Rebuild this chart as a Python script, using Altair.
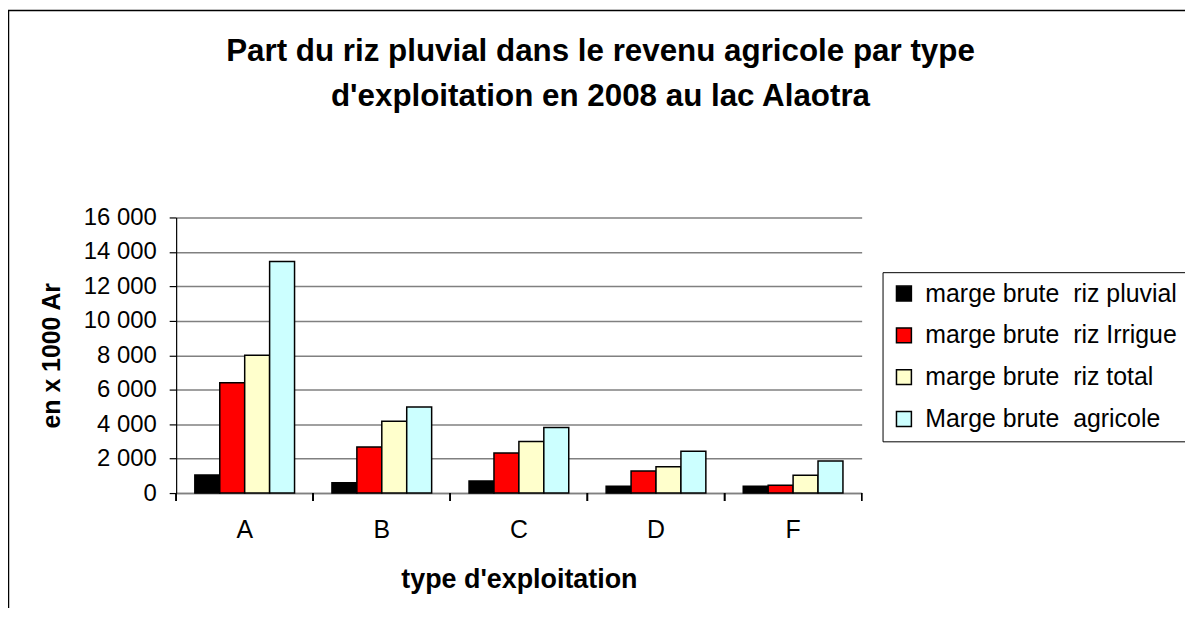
import altair as alt
import pandas as pd

categories = ["A", "B", "C", "D", "F"]
series = [
    "marge brute\u00a0 riz pluvial",
    "marge brute\u00a0 riz Irrigue",
    "marge brute\u00a0 riz total",
    "Marge brute\u00a0 agricole",
]
colors = ["#000000", "#FF0000", "#FFFFCC", "#CCFFFF"]
pluvial = [1050, 600, 700, 390, 390]
irrigue = [6400, 2670, 2320, 1280, 460]
total = [8000, 4170, 3000, 1530, 1040]
agricole = [13450, 5000, 3800, 2430, 1860]
y_ticks = [0, 2000, 4000, 6000, 8000, 10000, 12000, 14000, 16000]

rows = []
for s, vals in zip(series, [pluvial, irrigue, total, agricole]):
    for c, v in zip(categories, vals):
        rows.append({"cat": c, "series": s, "value": v})
df = pd.DataFrame(rows)

FONT = "Liberation Sans"
W, H = 689, 277

xscale = alt.Scale(domain=categories, paddingInner=0, paddingOuter=0)
xaxis = alt.Axis(title="type d'exploitation", labelAngle=0, ticks=False,
                 domainColor="#808080", domainWidth=1.5,
                 labelFontSize=25, labelPadding=25, labelColor="black",
                 titleFontSize=27, titleFontWeight="bold", titlePadding=24,
                 titleColor="black")

bars = alt.Chart(df).mark_bar(stroke="black", strokeWidth=1.5).encode(
    x=alt.X("cat:N", sort=categories, scale=xscale, axis=xaxis),
    xOffset=alt.XOffset("series:N", sort=series,
                        scale=alt.Scale(paddingInner=0, paddingOuter=0.75)),
    y=alt.Y("value:Q", scale=alt.Scale(domain=[0, 16000], nice=False),
            axis=alt.Axis(title="en x 1000 Ar", values=y_ticks,
                          labelExpr="replace(format(datum.value, ','), ',', ' ')",
                          domainColor="black", domainWidth=1.2,
                          tickColor="black", tickSize=7, tickWidth=1.2,
                          gridColor="#808080", gridWidth=1.5,
                          labelFontSize=24, labelPadding=13, labelColor="black",
                          titleFontSize=25, titleFontWeight="bold", titleColor="black",
                          titleX=-125, titleY=H / 2, titleAngle=270,
                          titleAlign="center", titleBaseline="middle")),
    color=alt.Color("series:N", sort=series,
                    scale=alt.Scale(domain=series, range=colors),
                    legend=alt.Legend(title=None, orient="none", legendX=710, legendY=55,
                                      strokeColor="black", fillColor="white", padding=9,
                                      labelFontSize=25, labelColor="black", labelLimit=400,
                                      symbolType="square", symbolSize=225,
                                      symbolStrokeColor="black", symbolStrokeWidth=1.5,
                                      symbolOpacity=1, labelOffset=9, rowPadding=16)),
)

ticks_left = alt.Chart(df).mark_rule(color="black", strokeWidth=1.2).encode(
    x=alt.X("cat:N", sort=categories, scale=xscale, bandPosition=0, axis=xaxis),
    y=alt.value(H), y2=alt.value(H + 8),
)
ticks_right = alt.Chart(df).mark_rule(color="black", strokeWidth=1.2).encode(
    x=alt.X("cat:N", sort=categories, scale=xscale, bandPosition=1, axis=xaxis),
    y=alt.value(H), y2=alt.value(H + 8),
)

frame = alt.Chart(alt.Data(values=[{"f": 1}])).mark_rect(
    fillOpacity=0, stroke="black", strokeWidth=1.5
).encode(
    x=alt.value(-168.5), x2=alt.value(1400), y=alt.value(-208), y2=alt.value(900)
)

chart = alt.layer(frame, bars, ticks_left, ticks_right).properties(
    width=W, height=H,
    autosize=alt.AutoSizeParams(type="none"),
    padding={"left": 169, "top": 209, "right": 325, "bottom": 114},
    title=alt.TitleParams(
        ["Part du riz pluvial dans le revenu agricole par type",
         "d'exploitation en 2008 au lac Alaotra"],
        fontSize=31.5, font=FONT, fontWeight="bold", color="black",
        anchor="middle", frame="group", dx=82, dy=103, offset=0, lineHeight=45,
    ),
).configure(font=FONT).configure_view(stroke=None).configure_axis(
    labelFont=FONT, titleFont=FONT
).configure_legend(labelFont=FONT)

chart.save("out.html", embed_options={"renderer": "svg", "actions": False})
